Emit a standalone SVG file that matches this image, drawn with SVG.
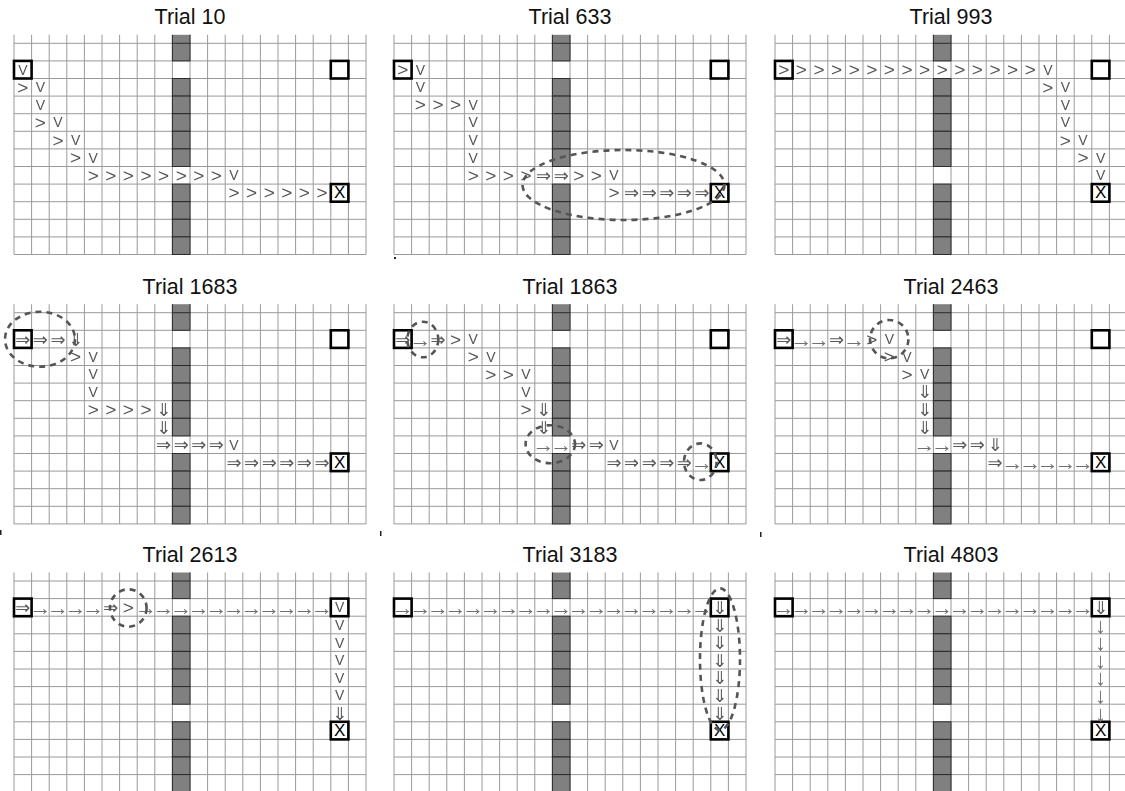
<svg xmlns="http://www.w3.org/2000/svg" width="1125" height="791" viewBox="0 0 1125 791">
<style>
.gl{stroke:#9a9a9a;stroke-width:1;fill:none}
.wall{fill:#808080;stroke:#2a2a2a;stroke-width:1}
.wallf{fill:#808080}
.walls{stroke:#2a2a2a;stroke-width:1;fill:none}
.sq{fill:none;stroke:#000;stroke-width:2.6}
.title{font-family:"Liberation Sans",Arial,sans-serif;font-size:21.5px;fill:#111;text-anchor:middle}
.x{font-family:"Liberation Sans",Arial,sans-serif;font-size:17px;fill:#000;text-anchor:middle;dominant-baseline:central}
.marks{filter:url(#gray)}
.r{font-family:"Liberation Sans",Arial,sans-serif;font-size:19px;fill:#555;text-anchor:middle;dominant-baseline:central}
.v{font-family:"Liberation Sans",Arial,sans-serif;font-size:14px;fill:#555;text-anchor:middle;dominant-baseline:central}
.dr,.dd{font-family:"DejaVu Sans",sans-serif;font-size:18px;fill:#5a5a5a;text-anchor:middle;dominant-baseline:central}
.tr,.td{font-family:"Liberation Sans","DejaVu Sans",sans-serif;font-size:22px;fill:#707070;text-anchor:middle;dominant-baseline:central}
.e{fill:none;stroke:#555;stroke-width:2.6;stroke-dasharray:6 5}
.dot{fill:#222}
</style>
<defs>
<filter id="gray" x="-5%" y="-5%" width="110%" height="110%"><feColorMatrix type="saturate" values="0"/></filter>
<g id="grid">
<path class="gl" d="M0 -8.5V211.2M17.6 -8.5V211.2M35.2 -8.5V211.2M52.8 -8.5V211.2M70.4 -8.5V211.2M88 -8.5V211.2M105.6 -8.5V211.2M123.2 -8.5V211.2M140.8 -8.5V211.2M158.4 -8.5V211.2M176 -8.5V211.2M193.6 -8.5V211.2M211.2 -8.5V211.2M228.8 -8.5V211.2M246.4 -8.5V211.2M264 -8.5V211.2M281.6 -8.5V211.2M299.2 -8.5V211.2M316.8 -8.5V211.2M334.4 -8.5V211.2M352 -8.5V211.2M0 0H352M0 17.6H352M0 35.2H352M0 52.8H352M0 70.4H352M0 88H352M0 105.6H352M0 123.2H352M0 140.8H352M0 158.4H352M0 176H352M0 193.6H352M0 211.2H352"/>
<rect class="wallf" x="158.4" y="-8.5" width="17.6" height="8.5"/>
<path class="walls" d="M158.4 -8.5V0M176 -8.5V0"/>
<rect class="wall" x="158.4" y="0" width="17.6" height="17.6"/>
<rect class="wall" x="158.4" y="35.2" width="17.6" height="17.6"/>
<rect class="wall" x="158.4" y="52.8" width="17.6" height="17.6"/>
<rect class="wall" x="158.4" y="70.4" width="17.6" height="17.6"/>
<rect class="wall" x="158.4" y="88" width="17.6" height="17.6"/>
<rect class="wall" x="158.4" y="105.6" width="17.6" height="17.6"/>
<rect class="wall" x="158.4" y="140.8" width="17.6" height="17.6"/>
<rect class="wall" x="158.4" y="158.4" width="17.6" height="17.6"/>
<rect class="wall" x="158.4" y="176" width="17.6" height="17.6"/>
<rect class="wall" x="158.4" y="193.6" width="17.6" height="17.6"/>
<rect class="sq" x="0" y="17.6" width="17.6" height="17.6"/>
<rect class="sq" x="316.8" y="17.6" width="17.6" height="17.6"/>
<rect class="sq" x="316.8" y="140.8" width="17.6" height="17.6"/>
<text class="x" x="325.6" y="149.6">X</text>
</g>
</defs>

<g id="trial-10" transform="translate(14,43.3)">
<use href="#grid"/>
<text class="title" x="176" y="-19">Trial 10</text>
<g class="marks">
<text class="v" x="8.8" y="26.4">V</text>
<text class="v" x="26.4 26.4" y="44 61.6">VV</text>
<text class="v" x="44" y="79.2">V</text>
<text class="v" x="61.6" y="96.8">V</text>
<text class="v" x="79.2" y="114.4">V</text>
<text class="v" x="220" y="132">V</text>
<text class="r" x="8.8" y="44">&gt;</text>
<text class="r" x="26.4" y="79.2">&gt;</text>
<text class="r" x="44" y="96.8">&gt;</text>
<text class="r" x="61.6" y="114.4">&gt;</text>
<text class="r" x="79.2 96.8 114.4 132 149.6 167.2 184.8 202.4" y="132">&gt;&gt;&gt;&gt;&gt;&gt;&gt;&gt;</text>
<text class="r" x="220 237.6 255.2 272.8 290.4 308" y="149.6">&gt;&gt;&gt;&gt;&gt;&gt;</text>
</g>
</g>

<g id="trial-633" transform="translate(394,43.3)">
<use href="#grid"/>
<text class="title" x="176" y="-19">Trial 633</text>
<g class="marks">
<text class="r" x="8.8" y="26.4">&gt;</text>
<text class="r" x="26.4 44 61.6" y="61.6">&gt;&gt;&gt;</text>
<text class="r" x="79.2 96.8 114.4 132" y="132">&gt;&gt;&gt;&gt;</text>
<text class="r" x="184.8 202.4" y="132">&gt;&gt;</text>
<text class="r" x="220" y="149.6">&gt;</text>
<text class="v" x="26.4 26.4" y="26.4 44">VV</text>
<text class="v" x="79.2 79.2 79.2 79.2" y="61.6 79.2 96.8 114.4">VVVV</text>
<text class="v" x="220" y="132">V</text>
<text class="dr" x="149.6 167.2" y="132">⇒⇒</text>
<text class="dr" x="237.6 255.2 272.8 290.4 308" y="149.6">⇒⇒⇒⇒⇒</text>
</g>
<ellipse class="e" cx="229.5" cy="141.7" rx="101" ry="35"/>
</g>

<g id="trial-993" transform="translate(775,43.3)">
<use href="#grid"/>
<text class="title" x="176" y="-19">Trial 993</text>
<g class="marks">
<text class="r" x="8.8 26.4 44 61.6 79.2 96.8 114.4 132 149.6 167.2 184.8 202.4 220 237.6 255.2" y="26.4">&gt;&gt;&gt;&gt;&gt;&gt;&gt;&gt;&gt;&gt;&gt;&gt;&gt;&gt;&gt;</text>
<text class="r" x="272.8" y="44">&gt;</text>
<text class="r" x="290.4" y="96.8">&gt;</text>
<text class="r" x="308" y="114.4">&gt;</text>
<text class="v" x="272.8" y="26.4">V</text>
<text class="v" x="290.4 290.4 290.4" y="44 61.6 79.2">VVV</text>
<text class="v" x="308" y="96.8">V</text>
<text class="v" x="325.6 325.6" y="114.4 132">VV</text>
</g>
</g>

<g id="trial-1683" transform="translate(14,312.7)">
<use href="#grid"/>
<text class="title" x="176" y="-19">Trial 1683</text>
<g class="marks">
<text class="dr" x="8.8 26.4 44" y="26.4">⇒⇒⇒</text>
<text class="dr" x="149.6 167.2 184.8 202.4" y="132">⇒⇒⇒⇒</text>
<text class="dr" x="220 237.6 255.2 272.8 290.4 308" y="149.6">⇒⇒⇒⇒⇒⇒</text>
<text class="dd" x="61.6" y="26.4">⇓</text>
<text class="dd" x="149.6 149.6" y="96.8 114.4">⇓⇓</text>
<text class="r" x="61.6" y="44">&gt;</text>
<text class="r" x="79.2 96.8 114.4 132" y="96.8">&gt;&gt;&gt;&gt;</text>
<text class="v" x="79.2 79.2 79.2" y="44 61.6 79.2">VVV</text>
<text class="v" x="220" y="132">V</text>
</g>
<ellipse class="e" cx="26" cy="26.5" rx="35" ry="27.5"/>
</g>

<g id="trial-1863" transform="translate(394,312.7)">
<use href="#grid"/>
<text class="title" x="176" y="-19">Trial 1863</text>
<g class="marks">
<text class="dr" x="8.8" y="26.4">⇒</text>
<text class="dr" x="44" y="26.4">⇒</text>
<text class="dr" x="184.8 202.4" y="132">⇒⇒</text>
<text class="dr" x="220 237.6 255.2 272.8 290.4" y="149.6">⇒⇒⇒⇒⇒</text>
<text class="tr" x="26.4" y="26.4">→</text>
<text class="tr" x="149.6 167.2" y="132">→→</text>
<text class="tr" x="308" y="149.6">→</text>
<text class="r" x="61.6" y="26.4">&gt;</text>
<text class="r" x="79.2" y="44">&gt;</text>
<text class="r" x="96.8 114.4" y="61.6">&gt;&gt;</text>
<text class="r" x="132" y="96.8">&gt;</text>
<text class="v" x="79.2" y="26.4">V</text>
<text class="v" x="96.8" y="44">V</text>
<text class="v" x="132 132" y="61.6 79.2">VV</text>
<text class="v" x="220" y="132">V</text>
<text class="dd" x="149.6 149.6" y="96.8 114.4">⇓⇓</text>
</g>
<ellipse class="e" cx="28.8" cy="26.8" rx="15.5" ry="17.8"/>
<ellipse class="e" cx="156.3" cy="131.5" rx="24.7" ry="19"/>
<ellipse class="e" cx="306.3" cy="149" rx="16.3" ry="18.3"/>
</g>

<g id="trial-2463" transform="translate(775,312.7)">
<use href="#grid"/>
<text class="title" x="176" y="-19">Trial 2463</text>
<g class="marks">
<text class="dr" x="8.8" y="26.4">⇒</text>
<text class="dr" x="61.6" y="26.4">⇒</text>
<text class="dr" x="184.8 202.4" y="132">⇒⇒</text>
<text class="dr" x="220" y="149.6">⇒</text>
<text class="tr" x="26.4 44" y="26.4">→→</text>
<text class="tr" x="79.2" y="26.4">→</text>
<text class="tr" x="149.6 167.2" y="132">→→</text>
<text class="tr" x="237.6 255.2 272.8 290.4 308" y="149.6">→→→→→</text>
<text class="r" x="96.8" y="26.4">&gt;</text>
<text class="r" x="114.4" y="44">&gt;</text>
<text class="r" x="132" y="61.6">&gt;</text>
<text class="v" x="114.4" y="26.4">V</text>
<text class="v" x="132" y="44">V</text>
<text class="v" x="149.6" y="61.6">V</text>
<text class="dd" x="149.6 149.6 149.6" y="79.2 96.8 114.4">⇓⇓⇓</text>
<text class="dd" x="220" y="132">⇓</text>
</g>
<ellipse class="e" cx="114.2" cy="26.5" rx="19.2" ry="19.2"/>
</g>

<g id="trial-2613" transform="translate(14,581)">
<use href="#grid"/>
<text class="title" x="176" y="-19">Trial 2613</text>
<g class="marks">
<text class="dr" x="8.8" y="26.4">⇒</text>
<text class="dr" x="96.8" y="26.4">⇒</text>
<text class="tr" x="26.4 44 61.6 79.2" y="26.4">→→→→</text>
<text class="tr" x="132 149.6 167.2 184.8 202.4 220 237.6 255.2 272.8 290.4 308" y="26.4">→→→→→→→→→→→</text>
<text class="r" x="114.4" y="26.4">&gt;</text>
<text class="v" x="325.6 325.6 325.6 325.6 325.6 325.6" y="26.4 44 61.6 79.2 96.8 114.4">VVVVVV</text>
<text class="dd" x="325.6" y="132">⇓</text>
</g>
<ellipse class="e" cx="114.3" cy="27" rx="18.3" ry="18.7"/>
</g>

<g id="trial-3183" transform="translate(394,581)">
<use href="#grid"/>
<text class="title" x="176" y="-19">Trial 3183</text>
<g class="marks">
<text class="tr" x="8.8 26.4 44 61.6 79.2 96.8 114.4 132 149.6 167.2 184.8 202.4 220 237.6 255.2 272.8 290.4 308" y="26.4">→→→→→→→→→→→→→→→→→→</text>
<text class="dd" x="325.6 325.6 325.6 325.6 325.6 325.6 325.6" y="26.4 44 61.6 79.2 96.8 114.4 132">⇓⇓⇓⇓⇓⇓⇓</text>
</g>
<ellipse class="e" cx="326" cy="78.2" rx="20" ry="70.8"/>
</g>

<g id="trial-4803" transform="translate(775,581)">
<use href="#grid"/>
<text class="title" x="176" y="-19">Trial 4803</text>
<g class="marks">
<text class="tr" x="8.8 26.4 44 61.6 79.2 96.8 114.4 132 149.6 167.2 184.8 202.4 220 237.6 255.2 272.8 290.4 308" y="26.4">→→→→→→→→→→→→→→→→→→</text>
<text class="dd" x="325.6" y="26.4">⇓</text>
<text class="td" x="325.6 325.6 325.6 325.6 325.6 325.6" y="44 61.6 79.2 96.8 114.4 132">↓↓↓↓↓↓</text>
</g>
</g>

<g id="stray-marks">
<rect class="dot" x="394" y="257" width="2" height="2"/>
<rect class="dot" x="0" y="530" width="1.5" height="5"/>
<rect class="dot" x="380" y="531" width="1.5" height="5"/>
<rect class="dot" x="760" y="532" width="1.5" height="5"/>
</g>
</svg>
